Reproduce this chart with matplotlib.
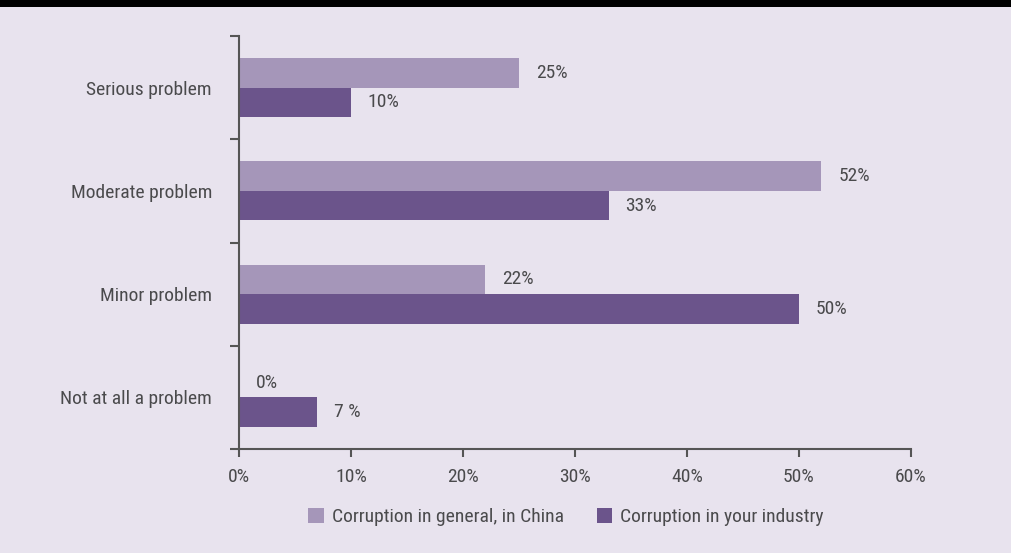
import os
import matplotlib
matplotlib.use("Agg")
import matplotlib.pyplot as plt
from matplotlib.patches import Rectangle
from matplotlib import font_manager as fm
import numpy as np

categories = ["Serious problem", "Moderate problem", "Minor problem", "Not at all a problem"]
general = [25, 52, 22, 0]
industry = [10, 33, 50, 7]
general_labels = ["25%", "52%", "22%", "0%"]
industry_labels = ["10%", "33%", "50%", "7 %"]
xticks = [0, 10, 20, 30, 40, 50, 60]
xtick_labels = ["0%", "10%", "20%", "30%", "40%", "50%", "60%"]
series_names = ["Corruption in general, in China", "Corruption in your industry"]

# pick a condensed font if one is installed
prefs = ["liberationsansnarrow-regular", "robotocondensed-regular", "notosans-condensed.",
         "notosans-condensed-regular", "opensans-condensed", "dejavusanscondensed."]
chosen = None
files = [f.fname for f in fm.fontManager.ttflist]
for p in prefs:
    for fn in files:
        if os.path.basename(fn).lower().startswith(p):
            chosen = fn
            break
    if chosen:
        break

if chosen:
    FP = fm.FontProperties(fname=chosen)
    FS = 14
else:
    FP = fm.FontProperties(family=["Roboto", "DejaVu Sans"])
    FS = 12.5
FP.set_size(FS)
plt.rcParams['font.family'] = ["Roboto", "DejaVu Sans"]

BG = "#e8e3ee"
C_GEN = "#a596b9"
C_IND = "#6b548b"
TXT = "#4a4a4c"
AX = "#555555"

fig = plt.figure(figsize=(10.12, 5.53), dpi=100, facecolor=BG)
fig.patches.append(Rectangle((0, 1 - 7/553), 1, 7/553, transform=fig.transFigure,
                             facecolor="black", edgecolor="none", zorder=10))
ax = fig.add_axes([239/1012, 1 - 449/553, (911-239)/1012, (449-36)/553])
ax.set_facecolor(BG)

y = np.arange(len(categories))
h = 0.286
ax.barh(y - h/2, general, height=h, color=C_GEN, label=series_names[0])
ax.barh(y + h/2, industry, height=h, color=C_IND, label=series_names[1])

for i in range(len(categories)):
    ax.text(general[i] + 1.5, y[i] - h/2, general_labels[i], va="center", ha="left",
            fontproperties=FP, color=TXT)
    ax.text(industry[i] + 1.5, y[i] + h/2, industry_labels[i], va="center", ha="left",
            fontproperties=FP, color=TXT)

ax.set_xlim(0, 60)
ax.set_ylim(len(categories) - 0.5, -0.5)
ax.set_xticks(xticks)
ax.set_xticklabels(xtick_labels, fontproperties=FP, color=TXT)
ax.set_yticks(np.arange(-0.5, len(categories), 1.0))
ax.set_yticklabels([])
ax.set_yticks(y, minor=True)
ax.set_yticklabels(categories, minor=True, fontproperties=FP, color=TXT)
ax.tick_params(axis="y", which="minor", length=0, pad=19.5)
ax.tick_params(axis="y", which="major", length=6.5, width=1.5, color=AX)
ax.tick_params(axis="x", length=5.8, width=1.5, color=AX, pad=8)
for s in ["top", "right"]:
    ax.spines[s].set_visible(False)
for s in ["left", "bottom"]:
    ax.spines[s].set_color(AX)
    ax.spines[s].set_linewidth(1.5)

fig.legend(loc="center", bbox_to_anchor=(566/1012, 1 - 517/553), ncol=2, frameon=False,
           prop=FP, labelcolor=TXT, handlelength=0.8, handleheight=0.8,
           handletextpad=0.4, columnspacing=1.7)

fig.savefig("out.png", dpi=100, facecolor=BG)
